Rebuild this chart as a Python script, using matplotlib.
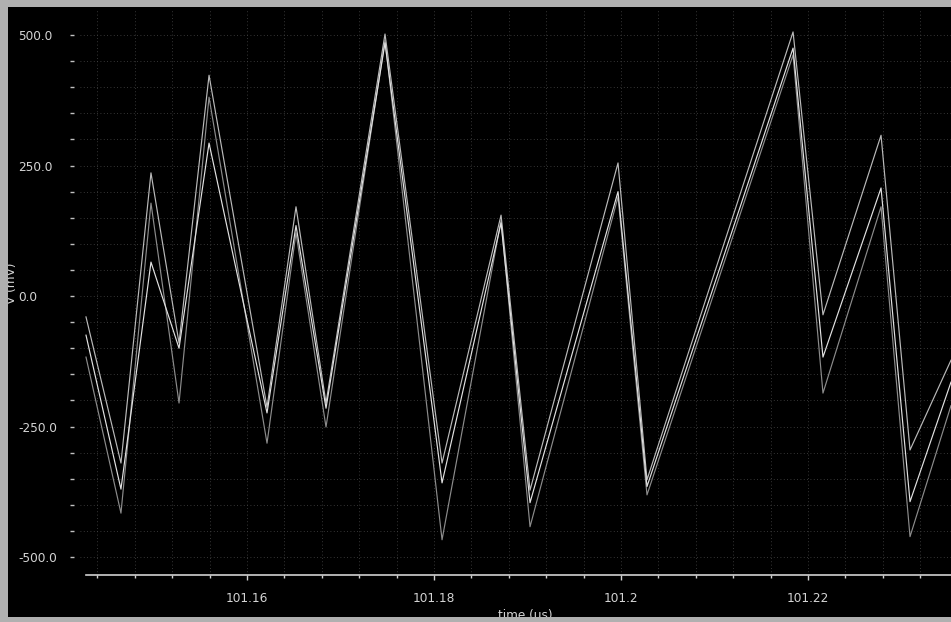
import matplotlib as mpl
mpl.use("Agg")
import matplotlib.pyplot as plt
from matplotlib.patches import Rectangle
from matplotlib.ticker import MultipleLocator, FuncFormatter

mpl.rcParams['font.family'] = ['DejaVu Sans']

# vertex times (us) shared by the three traces
time_us = [101.14278, 101.14652, 101.14973, 101.15273, 101.15594, 101.16214,
           101.16524, 101.16845, 101.17476, 101.18086, 101.18717, 101.19027,
           101.19968, 101.20278, 101.21840, 101.22160, 101.22781, 101.23091,
           101.23529]

# voltages (mV)
v_trace1 = [-40, -320, 236, -90, 423, -213, 171, -205, 502, -320, 155, -372,
            255, -352, 506, -36, 308, -295, -123]
v_trace2 = [-117, -416, 178, -205, 381, -282, 121, -251, 490, -467, 145, -442,
            190, -381, 462, -186, 171, -461, -210]
v_trace3 = [-75, -370, 65, -100, 293, -224, 135, -215, 485, -358, 140, -396,
            200, -365, 475, -117, 207, -394, -165]

W, H = 951, 622
fig = plt.figure(figsize=(W / 100, H / 100), dpi=100)
fig.patch.set_facecolor("#b0b0b0")

# black screen area
fig.patches.append(Rectangle((8 / W, 5 / H), 943 / W, 610 / H,
                             transform=fig.transFigure, facecolor="black",
                             edgecolor="none", zorder=-1))

# axes box in pixels: left 80, right 951, top 10, bottom 575
ax = fig.add_axes([80 / W, (H - 575) / H, 871 / W, 565 / H])
ax.set_facecolor("black")

ax.plot(time_us, v_trace2, color="#8c8c8c", lw=0.85)
ax.plot(time_us, v_trace1, color="#bababa", lw=0.85)
ax.plot(time_us, v_trace3, color="#e2e2e2", lw=0.85)

ax.set_xlim(101.142139, 101.235293)
ax.set_ylim(-534.5, 548)

ax.xaxis.set_major_locator(MultipleLocator(0.02))
ax.xaxis.set_minor_locator(MultipleLocator(0.004))
ax.yaxis.set_major_locator(MultipleLocator(250))
ax.yaxis.set_minor_locator(MultipleLocator(50))
ax.xaxis.set_major_formatter(FuncFormatter(lambda v, p: f"{v:g}"))
ax.yaxis.set_major_formatter(FuncFormatter(lambda v, p: f"{v:.1f}"))

ax.grid(which="both", color="#484848", ls=(0, (1, 3)), lw=0.6)

for s in ["top", "right"]:
    ax.spines[s].set_visible(False)
ax.spines["left"].set_visible(False)
ax.spines["left"].set_position(("outward", 4))
ax.spines["bottom"].set_color("#d0d0d0")
ax.spines["bottom"].set_linewidth(1.2)
ax.spines["bottom"].set_bounds(101.1428, 101.235293)

ax.tick_params(axis="y", which="both", direction="out", colors="#c0c0c0",
               length=3, width=1, labelsize=8.7, labelcolor="#d4d4d4", pad=37.4)
ax.tick_params(axis="x", which="major", direction="out", colors="#d0d0d0",
               length=3.5, width=1, labelsize=8.7, labelcolor="#d4d4d4", pad=9)
ax.tick_params(axis="x", which="minor", direction="out", colors="#d0d0d0",
               length=2, width=1)
for lab in ax.get_yticklabels():
    lab.set_horizontalalignment("left")

ax.set_xlabel("time (µs)", color="#d4d4d4", fontsize=8.7)
ax.xaxis.set_label_coords(0.511, -0.06)
ax.set_ylabel("V (mV)", color="#d4d4d4", fontsize=8.7)
ax.yaxis.set_label_coords(-0.0712, 0.517)

# scanner border strips over the edges
for (x0, y0, w, h) in [(0, 0, 8, H), (0, H - 7, W, 7), (0, 0, W, 5)]:
    fig.patches.append(Rectangle((x0 / W, y0 / H), w / W, h / H,
                                 transform=fig.transFigure, facecolor="#b0b0b0",
                                 edgecolor="none", zorder=5))

fig.savefig("out.png", dpi=100, facecolor=fig.get_facecolor())
